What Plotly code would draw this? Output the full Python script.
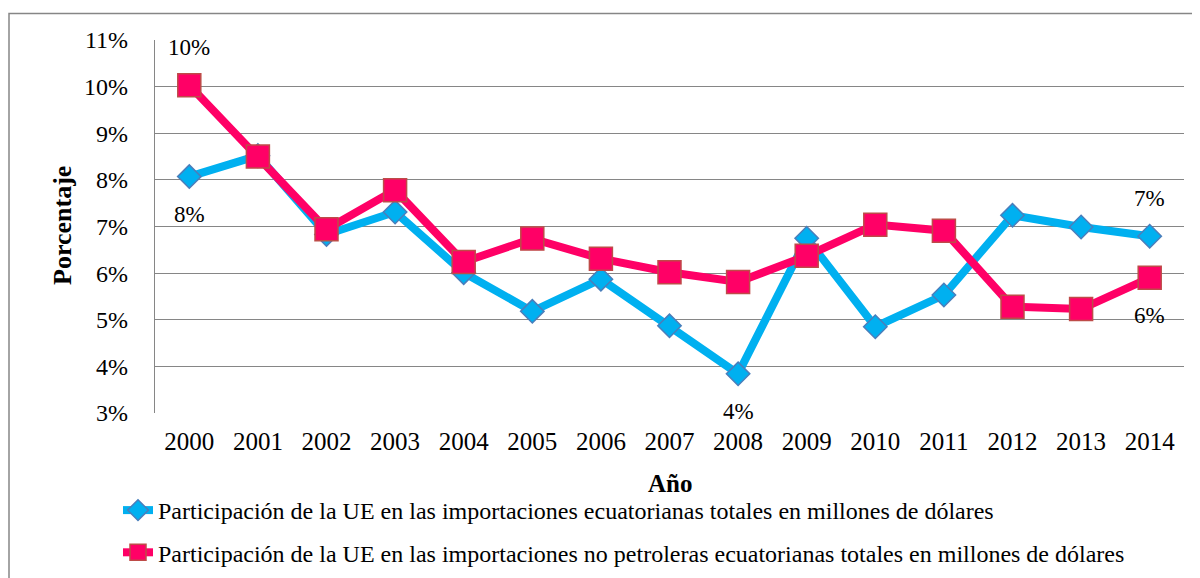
import plotly.graph_objects as go

years = [str(y) for y in range(2000, 2015)]
ue_total = [8.07, 8.52, 6.83, 7.31, 6.01, 5.18, 5.87, 4.87, 3.84, 6.75, 4.85, 5.53, 7.24, 6.99, 6.79]
ue_no_petro = [10.03, 8.50, 6.94, 7.78, 6.24, 6.74, 6.31, 6.02, 5.81, 6.37, 7.04, 6.91, 5.28, 5.23, 5.90]
name_total = "Participación de la UE en las importaciones ecuatorianas totales en millones de dólares"
name_no_petro = "Participación de la UE en las importaciones no petroleras ecuatorianas totales en millones de dólares"

# data labels: index -> position
labels_total = {0: "below", 8: "below", 14: "above"}
labels_no_petro = {0: "above", 14: "below"}

FONT = "Liberation Serif"
GRID = "#868686"

# figure geometry (page is offset by the 8px body margin)
W, H = 1192, 570
L, R, T, B = 147, 16, 32, 165
PW, PH = W - L - R, H - T - B


def px(fx):
    return (fx - L) / PW


def py(fy):
    return (H - B - fy) / PH


fig = go.Figure()
fig.add_trace(go.Scatter(
    x=years, y=[v / 100 for v in ue_total], name=name_total, mode="lines+markers",
    line=dict(color="#00B0F0", width=8),
    marker=dict(symbol="diamond", size=18, color="#00B0F0", line=dict(color="#4A7EBB", width=1.5)),
    legendgroup="a",
))
fig.add_trace(go.Scatter(
    x=years, y=[v / 100 for v in ue_no_petro], name=name_no_petro, mode="lines+markers",
    line=dict(color="#FF0066", width=8),
    marker=dict(symbol="square", size=23, color="#FF0066", line=dict(color="#BE4B48", width=1.5)),
    legendgroup="b",
))

# data labels: x given as the category index on the category axis
for series, labs in ((ue_total, labels_total), (ue_no_petro, labels_no_petro)):
    for i, pos in labs.items():
        fig.add_annotation(
            x=years.index(years[i]), y=series[i] / 100, xref="x", yref="y",
            text=f"{round(series[i]):d}%", showarrow=False,
            xanchor="center", yanchor="middle",
            yshift=38 if pos == "above" else -38,
            font=dict(family=FONT, size=23, color="black"),
        )

# axis titles
fig.add_annotation(xref="paper", yref="paper", x=px(661.5), y=py(476), text="<b>Año</b>",
                   xanchor="center", yanchor="middle",
                   showarrow=False, font=dict(family=FONT, size=25, color="black"))
fig.add_annotation(xref="paper", yref="paper", x=px(54), y=py(218), text="<b>Porcentaje</b>",
                   xanchor="center", yanchor="middle",
                   showarrow=False, textangle=-90, font=dict(family=FONT, size=26, color="black"))

fig.add_shape(type="rect", xref="paper", yref="paper",
              x0=px(1), x1=px(1215), y0=py(600), y1=py(5.5),
              line=dict(color=GRID, width=1.5), layer="below")

fig.update_layout(
    width=W, height=H,
    margin=dict(l=L, r=R, t=T, b=B, autoexpand=False),
    plot_bgcolor="white", paper_bgcolor="white",
    font=dict(family=FONT, size=24, color="black"),
    showlegend=True,
    legend=dict(
        xref="container", yref="container", x=110 / W, y=1 - 480 / H,
        xanchor="left", yanchor="top", orientation="v",
        font=dict(family=FONT, size=24, color="black"),
        tracegroupgap=8, bgcolor="rgba(0,0,0,0)",
    ),
    xaxis=dict(
        type="category", range=[-0.5, 14.5], showgrid=False, showline=False,
        ticks="", ticklabelstandoff=11, tickfont=dict(family=FONT, size=25), tickangle=0,
        automargin=False,
    ),
    yaxis=dict(
        range=[0.03, 0.11], dtick=0.01, tickformat=".0%", showgrid=True,
        gridcolor=GRID, gridwidth=1.3, showline=True, linecolor=GRID, linewidth=1.3,
        zeroline=False, ticks="", ticklabelstandoff=21, automargin=False,
        tickfont=dict(family=FONT, size=24),
    ),
)

fig.write_html("out.html")
